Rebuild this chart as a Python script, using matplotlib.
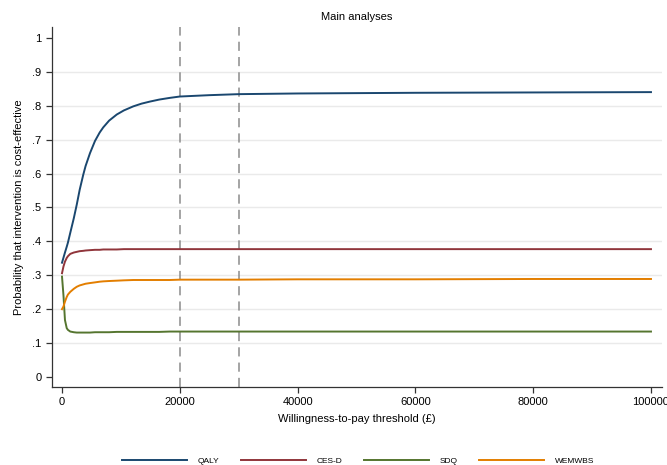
import numpy as np
import matplotlib
matplotlib.use("Agg")
import matplotlib.pyplot as plt
from matplotlib.lines import Line2D

plt.rcParams['font.family'] = ['Liberation Sans', 'DejaVu Sans']

# willingness-to-pay thresholds (GBP)
wtp = [0, 250, 500, 800, 1000, 1400, 2000, 2500, 3000, 3600, 4000, 4750, 5600, 6400, 7000,
       8000, 9300, 10500, 12100, 13500, 14900, 16500, 18300, 20000, 25000, 30000,
       40000, 60000, 80000, 100000]
# probability cost-effective
qaly = [0.337, 0.352, 0.367, 0.384, 0.396, 0.425, 0.468, 0.508, 0.552, 0.596, 0.622, 0.66,
        0.696, 0.721, 0.736, 0.756, 0.774, 0.786, 0.798, 0.806, 0.812, 0.818, 0.823, 0.827,
        0.831, 0.834, 0.836, 0.838, 0.839, 0.840]
cesd = [0.306, 0.326, 0.340, 0.351, 0.356, 0.363, 0.367, 0.369, 0.371, 0.372, 0.373, 0.374,
        0.375, 0.375, 0.376, 0.376, 0.376, 0.377, 0.377, 0.377, 0.377, 0.377, 0.377, 0.377,
        0.377, 0.377, 0.377, 0.377, 0.377, 0.377]
sdq = [0.296, 0.24, 0.168, 0.144, 0.139, 0.134, 0.132, 0.131, 0.131, 0.131, 0.131, 0.131,
       0.132, 0.132, 0.132, 0.132, 0.133, 0.133, 0.133, 0.133, 0.133, 0.133, 0.134, 0.134,
       0.134, 0.134, 0.134, 0.134, 0.134, 0.134]
wemwbs = [0.200, 0.208, 0.222, 0.236, 0.243, 0.251, 0.260, 0.266, 0.270, 0.273, 0.275, 0.277,
          0.279, 0.281, 0.282, 0.283, 0.284, 0.285, 0.286, 0.286, 0.286, 0.286, 0.286, 0.287,
          0.287, 0.287, 0.288, 0.288, 0.289, 0.289]

names = ['QALY', 'CES-D', 'SDQ', 'WEMWBS']
colors = ['#1a476f', '#90353b', '#55752f', '#e37e00']
series = [qaly, cesd, sdq, wemwbs]

fig = plt.figure(figsize=(6.67, 4.65), dpi=100)
ax = fig.add_axes([52/667, 78/465, 610/667, 360/465])

for yv in np.arange(0.1, 0.95, 0.1):
    ax.axhline(yv, color='#eaeaea', lw=1, zorder=0)
for xv in [20000, 30000]:
    ax.axvline(xv, color='#8c8c8c', lw=1.1, ls=(0, (6, 4)), zorder=1)

for s, c in zip(series, colors):
    ax.plot(wtp, s, color=c, lw=1.4, zorder=3, solid_joinstyle='round')

ax.set_xlim(-1700, 101870)
ax.set_ylim(-0.0295, 1.032)
ax.set_yticks(np.arange(0, 1.01, 0.1))
ax.set_yticklabels(['0', '.1', '.2', '.3', '.4', '.5', '.6', '.7', '.8', '.9', '1'])
ax.set_xticks([0, 20000, 40000, 60000, 80000, 100000])
ax.set_xticklabels(['0', '20000', '40000', '60000', '80000', '100000'])
ax.tick_params(labelsize=8, length=4, color='#333333', width=0.9)

for sp in ['top', 'right']:
    ax.spines[sp].set_visible(False)
for sp in ['left', 'bottom']:
    ax.spines[sp].set_color('#333333')
    ax.spines[sp].set_linewidth(0.9)

ax.set_title('Main analyses', fontsize=8, pad=5)
ax.set_xlabel('Willingness-to-pay threshold (£)', fontsize=8, labelpad=5)
ax.set_ylabel('Probability that intervention is cost-effective', fontsize=8, labelpad=6)

handles = [Line2D([0], [0], color=c, lw=1.4) for c in colors]
fig.legend(handles, names, loc='center', bbox_to_anchor=(0.537, 460/465 - 1 + 0.02),
           ncol=4, frameon=False, fontsize=6, handlelength=7.8, handletextpad=1.3,
           columnspacing=2.55)

plt.savefig('out.png', dpi=100)
